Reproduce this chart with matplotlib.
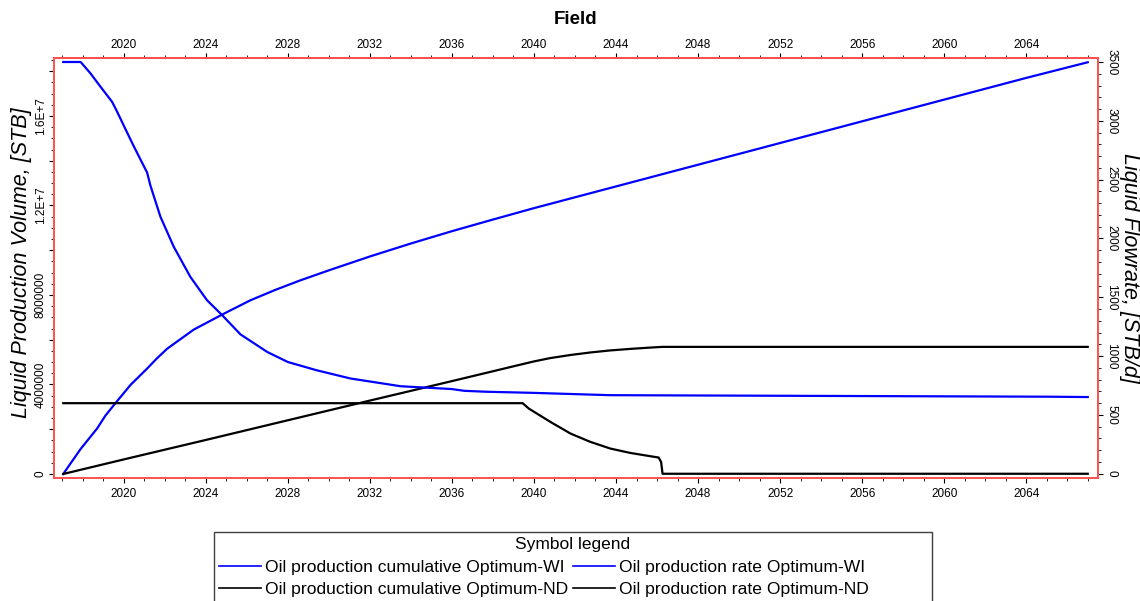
import matplotlib
matplotlib.use("Agg")
import matplotlib.pyplot as plt
from matplotlib.ticker import MultipleLocator, FuncFormatter
from matplotlib.lines import Line2D
from matplotlib.patches import Rectangle

plt.rcParams['font.family'] = ['Liberation Sans', 'DejaVu Sans']

# ---------------- data ----------------
# Oil production rate Optimum-WI (STB/d)
wi_rate_year = [2017.05, 2017.9, 2018.38, 2018.87, 2019.43, 2019.64, 2020.0, 2020.5,
                2021.14, 2021.3, 2021.79, 2022.44, 2023.25, 2024.06, 2024.8, 2025.69,
                2027.0, 2028.0, 2029.4, 2031.05, 2033.5, 2036.0, 2036.6, 2037.7,
                2039.9, 2043.7, 2065.1, 2067.0]
wi_rate = [3500, 3500, 3403, 3289, 3162, 3091, 2960, 2780,
           2560, 2450, 2184, 1929, 1673, 1475, 1348, 1185,
           1035, 950, 880, 810, 744, 720, 705, 697,
           688, 668, 655, 652]

# Oil production cumulative Optimum-WI (STB)
wi_cum_year = [2017.05, 2017.9, 2018.7, 2019.1, 2019.6, 2020.33, 2021.14, 2021.6,
               2022.12, 2023.41, 2024.79, 2026.17, 2027.4, 2028.6, 2030.0, 2032.0,
               2034.0, 2036.0, 2038.0, 2040.0, 2044.0, 2048.0, 2052.0, 2056.0,
               2060.0, 2064.0, 2067.0]
wi_cum = [0, 1.12e6, 2.03e6, 2.6e6, 3.17e6, 3.98e6, 4.71e6, 5.15e6,
          5.6e6, 6.45e6, 7.12e6, 7.76e6, 8.23e6, 8.65e6, 9.1e6, 9.72e6,
          10.3e6, 10.85e6, 11.37e6, 11.88e6, 12.85e6, 13.82e6, 14.79e6, 15.76e6,
          16.73e6, 17.7e6, 18.4e6]

# Oil production rate Optimum-ND (STB/d)
nd_rate_year = [2017.05, 2039.45, 2039.75, 2040.8, 2041.78, 2042.75, 2043.73, 2044.7,
                2045.68, 2046.08, 2046.2, 2046.27, 2067.0]
nd_rate = [600, 600, 554, 441, 342, 271, 214, 177,
           149, 138, 100, 0, 0]

# Oil production cumulative Optimum-ND (STB)
nd_cum_year = [2017.05, 2020.0, 2024.0, 2028.0, 2032.0, 2036.0, 2039.45, 2040.0,
               2040.8, 2041.8, 2042.75, 2043.7, 2044.7, 2045.7, 2046.27, 2067.0]
nd_cum = [0, 0.65e6, 1.52e6, 2.4e6, 3.28e6, 4.15e6, 4.91e6, 5.03e6,
          5.18e6, 5.32e6, 5.43e6, 5.52e6, 5.59e6, 5.65e6, 5.68e6, 5.68e6]

series_labels = ["Oil production cumulative Optimum-WI",
                 "Oil production cumulative Optimum-ND",
                 "Oil production rate Optimum-WI",
                 "Oil production rate Optimum-ND"]

year_ticks = list(range(2020, 2068, 4))
left_label_values = [0, 4e6, 8e6, 1.2e7, 1.6e7]

# ---------------- figure ----------------
W, H = 1140, 601
fig = plt.figure(figsize=(W / 100, H / 100), dpi=100)
L, R, T, B = 54, 1098, 58, 478
ax = fig.add_axes([L / W, 1 - B / H, (R - L) / W, (B - T) / H])
ax2 = ax.twinx()

BLUE = '#0000ff'
BLACK = '#000000'
LW = 1.6

ax.plot(wi_cum_year, wi_cum, color=BLUE, lw=LW)
ax.plot(nd_cum_year, nd_cum, color=BLACK, lw=LW)
ax2.plot(wi_rate_year, wi_rate, color=BLUE, lw=LW)
ax2.plot(nd_rate_year, nd_rate, color=BLACK, lw=LW)

ax.set_xlim(2016.6, 2067.5)
ax.set_ylim(-0.18e6, 18.59e6)
ax2.set_ylim(-36, 3534)

SPINE = '#ff5050'
for a in (ax, ax2):
    for s in a.spines.values():
        s.set_color(SPINE)
        s.set_linewidth(1.2)

TICK_FS = 8.5
MAJ_LEN, MIN_LEN = 3.6, 2.2

# bottom x ticks
ax.set_xticks(year_ticks)
ax.xaxis.set_minor_locator(MultipleLocator(1))
ax.tick_params(axis='x', which='both', direction='out', labelsize=TICK_FS, colors='black')
ax.tick_params(axis='x', which='major', length=MAJ_LEN, pad=3.4)
ax.tick_params(axis='x', which='minor', length=MIN_LEN)

# top x ticks
secx = ax.secondary_xaxis('top')
secx.set_xticks(year_ticks)
secx.xaxis.set_minor_locator(MultipleLocator(1))
secx.spines['top'].set_color(SPINE)
secx.spines['top'].set_linewidth(1.2)
secx.tick_params(axis='x', which='both', direction='out', labelsize=TICK_FS, colors='black')
secx.tick_params(axis='x', which='major', length=MAJ_LEN, pad=1.4)
secx.tick_params(axis='x', which='minor', length=MIN_LEN)

# left y ticks
ax.yaxis.set_major_locator(MultipleLocator(2e6))
ax.yaxis.set_minor_locator(MultipleLocator(5e5))


def left_fmt(v, pos):
    for lv in left_label_values:
        if abs(v - lv) < 1:
            if lv >= 1e7:
                return '%.1fE+7' % (lv / 1e7)
            return '%d' % lv
    return ''


ax.yaxis.set_major_formatter(FuncFormatter(left_fmt))
ax.tick_params(axis='y', which='major', length=MAJ_LEN, labelsize=TICK_FS,
               direction='out', pad=1.6)
ax.tick_params(axis='y', which='minor', length=MIN_LEN, direction='out')
for lab in ax.get_yticklabels():
    lab.set_rotation(90)
    lab.set_va('center')

# right y ticks
ax2.yaxis.set_major_locator(MultipleLocator(500))
ax2.yaxis.set_minor_locator(MultipleLocator(100))
ax2.tick_params(axis='y', which='major', length=MAJ_LEN, labelsize=TICK_FS,
                direction='out', pad=1.6)
ax2.tick_params(axis='y', which='minor', length=MIN_LEN, direction='out')
for lab in ax2.get_yticklabels():
    lab.set_rotation(-90)
    lab.set_va('center')

ax.set_ylabel("Liquid Production Volume, [STB]", fontsize=15.5, style='italic',
              va='center')
ax.yaxis.set_label_coords((22 - L) / (R - L), (B - 263) / (B - T))
ax2.set_ylabel("Liquid Flowrate, [STB/d]", fontsize=15.5, style='italic',
               rotation=-90, va='center')
ax2.yaxis.set_label_coords((1129 - L) / (R - L), 0.5)

fig.text(576 / W, 1 - 20 / H, "Field", fontsize=13.5, fontweight='bold',
         ha='center', va='center')

# legend box (extends past the bottom edge of the picture)
LEG_L, LEG_R, LEG_T = 214, 932, 532
fig.patches.append(Rectangle((LEG_L / W, -0.1), (LEG_R - LEG_L) / W, (H - LEG_T) / H + 0.1,
                             transform=fig.transFigure, fill=False,
                             edgecolor='#404040', lw=1.0))
fig.text((LEG_L + LEG_R) / 2 / W, 1 - 544 / H, "Symbol legend", fontsize=12.5,
         ha='center', va='center')

handles = [Line2D([], [], color=BLUE, lw=1.2),
           Line2D([], [], color=BLACK, lw=1.2),
           Line2D([], [], color=BLUE, lw=1.2),
           Line2D([], [], color=BLACK, lw=1.2)]
leg = fig.legend(handles, series_labels, ncol=2,
                 loc='upper left', bbox_to_anchor=(219 / W, 1 - 560 / H),
                 fontsize=12.6, frameon=False, handlelength=2.4, handletextpad=0.25,
                 columnspacing=0.25, borderpad=0, labelspacing=0.36,
                 borderaxespad=0)

fig.savefig("out.png", dpi=100)
